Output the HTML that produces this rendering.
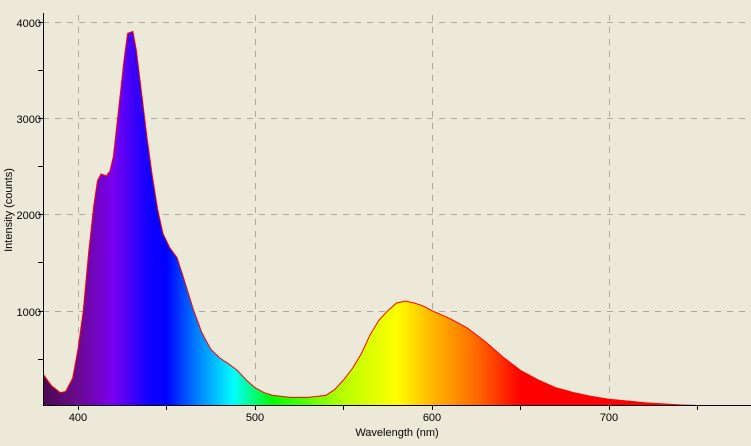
<!DOCTYPE html>
<html><head><meta charset="utf-8"><style>
html,body{margin:0;padding:0;background:#ece9d8;}
svg{display:block;font-family:"Liberation Sans",sans-serif;}
</style></head><body>
<svg id="s" width="751" height="446" xmlns="http://www.w3.org/2000/svg">
<defs>
<linearGradient id="g" gradientUnits="userSpaceOnUse" x1="43" y1="0" x2="751" y2="0">
</linearGradient>
<clipPath id="c"><rect x="43" y="15" width="708" height="390"/></clipPath>
</defs>
<rect x="0" y="0" width="751" height="446" fill="#ece9d8"/>
<g stroke="#a8a8a0" stroke-dasharray="6,6" stroke-width="1">
<line x1="78.5" y1="15" x2="78.5" y2="405"/>
<line x1="255.5" y1="15" x2="255.5" y2="405"/>
<line x1="432.5" y1="15" x2="432.5" y2="405"/>
<line x1="609.5" y1="15" x2="609.5" y2="405"/>
<line x1="43" y1="22.5" x2="751" y2="22.5"/>
<line x1="43" y1="118.5" x2="751" y2="118.5"/>
<line x1="43" y1="214.5" x2="751" y2="214.5"/>
<line x1="43" y1="311.5" x2="751" y2="311.5"/>
</g>
<g clip-path="url(#c)">
<path id="fill" fill="url(#g)"/>
<path id="line" fill="none" stroke="#ff0000" stroke-width="1"/>
</g>
<g stroke="#000" stroke-width="1">
<line x1="43.5" y1="13" x2="43.5" y2="405"/>
<line x1="43" y1="405.5" x2="751" y2="405.5"/>
<line x1="78.5" y1="405" x2="78.5" y2="410"/>
<line x1="166.5" y1="405" x2="166.5" y2="410"/>
<line x1="255.5" y1="405" x2="255.5" y2="410"/>
<line x1="343.5" y1="405" x2="343.5" y2="410"/>
<line x1="432.5" y1="405" x2="432.5" y2="410"/>
<line x1="520.5" y1="405" x2="520.5" y2="410"/>
<line x1="609.5" y1="405" x2="609.5" y2="410"/>
<line x1="697.5" y1="405" x2="697.5" y2="410"/>
<line x1="38" y1="22.5" x2="43" y2="22.5"/>
<line x1="38" y1="70.5" x2="43" y2="70.5"/>
<line x1="38" y1="118.5" x2="43" y2="118.5"/>
<line x1="38" y1="166.5" x2="43" y2="166.5"/>
<line x1="38" y1="214.5" x2="43" y2="214.5"/>
<line x1="38" y1="262.5" x2="43" y2="262.5"/>
<line x1="38" y1="311.5" x2="43" y2="311.5"/>
<line x1="38" y1="359.5" x2="43" y2="359.5"/>
</g>
<g font-size="11" fill="#000" text-anchor="end">
<text x="41" y="27">4000</text>
<text x="41" y="123">3000</text>
<text x="41" y="219">2000</text>
<text x="41" y="316">1000</text>
</g>
<g font-size="11" fill="#000" text-anchor="middle">
<text x="78" y="421">400</text>
<text x="255" y="421">500</text>
<text x="432" y="421">600</text>
<text x="609" y="421">700</text>
<text x="397" y="436">Wavelength (nm)</text>
</g>
<text font-size="11" fill="#000" text-anchor="middle" transform="translate(12,210) rotate(-90)">Intensity (counts)</text>
</svg>
<script>
var pts=[[378,370],[380,350],[385,220],[390,150],[393,160],[397,300],[400,600],[403,1000],[406,1600],[409,2100],[411,2350],[413,2420],[416,2400],[418,2450],[420,2600],[423,3100],[426,3600],[428,3880],[431,3900],[433,3700],[436,3250],[439,2800],[442,2400],[445,2050],[448,1800],[452,1650],[456,1550],[460,1320],[465,1020],[470,770],[475,600],[480,510],[485,450],[490,380],[495,280],[500,200],[505,150],[510,120],[520,100],[530,100],[540,120],[545,180],[550,280],[555,400],[560,550],[565,750],[570,900],[575,1000],[580,1080],[585,1100],[590,1080],[595,1050],[600,1000],[610,920],[620,820],[630,680],[640,520],[650,380],[660,280],[670,200],[680,150],[690,110],[700,80],[720,45],[740,22],[760,10],[785,5]];
function X(n){return 78+(n-400)*1.77;}
function Y(v){return 407-v*0.0963;}
var d="",l="";
for(var i=0;i<pts.length;i++){var p=X(pts[i][0]).toFixed(1)+","+Y(pts[i][1]).toFixed(1);d+=(i?"L":"M")+p;l+=(i?"L":"M")+p;}
d+="L"+X(785)+",406L"+X(378)+",406Z";
document.getElementById("fill").setAttribute("d",d);
document.getElementById("line").setAttribute("d",l);
var stops=[[380,"#4a0a50"],[400,"#6a0a90"],[420,"#7a00f0"],[440,"#1000ff"],[450,"#0000ff"],[465,"#0070ff"],[488,"#00ffff"],[510,"#00ff00"],[550,"#b8ff00"],[580,"#ffff00"],[600,"#ffb800"],[625,"#ff6a00"],[650,"#ff0000"],[780,"#ff0000"]];
var g=document.getElementById("g");
for(var j=0;j<stops.length;j++){var s=document.createElementNS("http://www.w3.org/2000/svg","stop");s.setAttribute("offset",((X(stops[j][0])-43)/708).toFixed(4));s.setAttribute("stop-color",stops[j][1]);g.appendChild(s);}
</script>
</body></html>
